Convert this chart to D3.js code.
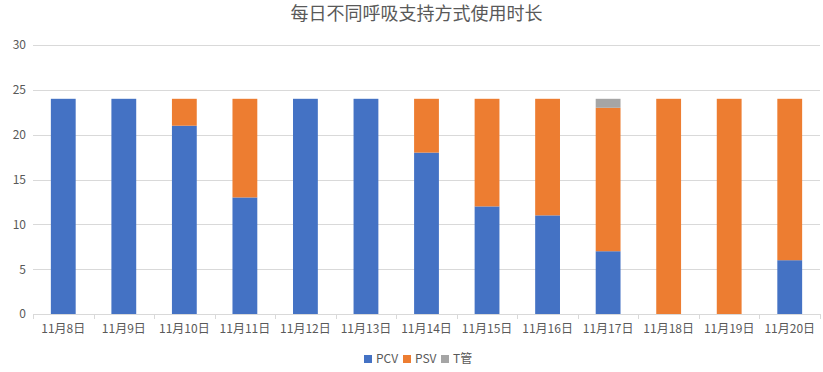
<!DOCTYPE html>
<html>
<head>
<meta charset="utf-8">
<script src="https://cdn.jsdelivr.net/npm/d3@7"></script>
<style>
	body { margin: 0; background: #fff; }
	svg text { font-family: "Noto Sans CJK SC", "Microsoft YaHei", sans-serif; fill: #595959; }
</style>
</head>
<body>
<div class="container"></div>
<script>
"use strict";

// chart data
const days = ['11月8日', '11月9日', '11月10日', '11月11日', '11月12日', '11月13日', '11月14日',
	'11月15日', '11月16日', '11月17日', '11月18日', '11月19日', '11月20日']
const pcv = [24, 24, 21, 13, 24, 24, 18, 12, 11, 7, 0, 0, 6]
const psv = [0, 0, 3, 11, 0, 0, 6, 12, 13, 16, 24, 24, 18]
const tTube = [0, 0, 0, 0, 0, 0, 0, 0, 0, 1, 0, 0, 0]
const seriesNames = ['PCV', 'PSV', 'T管']
const yTicks = [0, 5, 10, 15, 20, 25, 30]

const colors = ['#4472C4', '#ED7D31', '#A5A5A5']

const p = {
	width: 823,
	height: 372,
	left: 33,
	right: 820,
	top: 45,
	bottom: 314
}

const svg = d3.select('.container')
	.append('svg')
	.attr('width', p.width)
	.attr('height', p.height)

const x = d3.scaleBand().domain(days).range([p.left, p.right]).paddingInner(0.59).paddingOuter(0.295)
const y = d3.scaleLinear().domain([0, 30]).range([p.bottom, p.top])

// title
svg.append('text')
	.attr('x', p.width / 2 + 5)
	.attr('y', 20)
	.attr('text-anchor', 'middle')
	.style('font-size', '18px')
	.text('每日不同呼吸支持方式使用时长')

// gridlines
svg.append('g')
	.selectAll('line')
	.data(yTicks.filter(d => d > 0))
	.join('line')
	.attr('x1', p.left)
	.attr('x2', p.right)
	.attr('y1', d => Math.round(y(d)) + 0.5)
	.attr('y2', d => Math.round(y(d)) + 0.5)
	.attr('stroke', '#D9D9D9')

// y axis labels
const yAxis = svg.append('g')
	.attr('transform', `translate(${p.left - 7},0)`)
	.call(d3.axisLeft(y).tickValues(yTicks).tickSize(0).tickPadding(0))
yAxis.select('.domain').remove()
yAxis.selectAll('text').style('font-size', '12px').attr('fill', '#595959')

// stacked bars
const rows = days.map((d, i) => ({ day: d, PCV: pcv[i], PSV: psv[i], 'T管': tTube[i] }))
const stacked = d3.stack().keys(seriesNames)(rows)

svg.append('g')
	.selectAll('g')
	.data(stacked)
	.join('g')
	.attr('fill', (d, i) => colors[i])
	.selectAll('rect')
	.data(d => d)
	.join('rect')
	.attr('x', d => x(d.data.day))
	.attr('y', d => y(d[1]))
	.attr('width', x.bandwidth())
	.attr('height', d => y(d[0]) - y(d[1]))

// x axis
const xAxis = svg.append('g')
	.attr('transform', `translate(0,${Math.round(p.bottom) + 0.5})`)
	.call(d3.axisBottom(x).tickSize(0).tickPadding(10))
xAxis.select('.domain').attr('stroke', '#D9D9D9').attr('d', `M${p.left},0H${p.right}`)
xAxis.selectAll('text').style('font-size', '12px').attr('fill', '#595959')

// tick marks between categories
const step = (p.right - p.left) / days.length
svg.append('g')
	.selectAll('line')
	.data(d3.range(days.length + 1))
	.join('line')
	.attr('x1', d => Math.round(p.left + d * step) + 0.5)
	.attr('x2', d => Math.round(p.left + d * step) + 0.5)
	.attr('y1', p.bottom)
	.attr('y2', p.bottom + 5)
	.attr('stroke', '#D9D9D9')

// legend
const legendX = [364, 403, 441]
const legend = svg.append('g')
	.selectAll('g')
	.data(seriesNames)
	.join('g')
	.attr('transform', (d, i) => `translate(${legendX[i]},355)`)
legend.append('rect')
	.attr('width', 8)
	.attr('height', 8)
	.attr('fill', (d, i) => colors[i])
legend.append('text')
	.attr('x', 12)
	.attr('y', 8)
	.style('font-size', '12px')
	.text(d => d)
</script>
</body>
</html>
